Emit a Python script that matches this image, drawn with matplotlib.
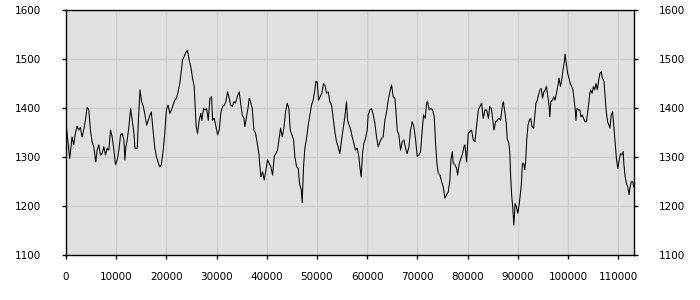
import matplotlib
matplotlib.use("Agg")
import matplotlib.pyplot as plt

x_vals = [0, 733, 1000, 1200, 1533, 1867, 2200, 2533, 2867, 3200, 3533, 3867, 4200, 4533, 4867,
          5200, 5533, 5933, 6200, 6533, 6867, 7200, 7533, 7867, 8200, 8533, 8867, 9200, 9533, 9867,
          10200, 10533, 10867, 11200, 11533, 11733, 11933, 12200, 12533, 12867, 13200, 13533, 13733,
          14200, 14400, 14733, 15067, 15400, 15733, 16067, 16400, 16733, 17000, 17333, 17667, 18000,
          18333, 18667, 19000, 19333, 19667, 20000, 20333, 20667, 21000, 21333, 21667, 22000, 22333,
          22667, 23000, 23200, 23533, 23867, 24200, 24533, 24867, 25200, 25533, 25733, 25933, 26200,
          26533, 26867, 27067, 27400,
          27680, 28010, 28340, 28670, 29000, 29200, 29540, 29870, 30200, 30530, 30860, 31200, 31530,
          31860, 32190, 32460, 32790, 33120, 33450, 33780, 34110, 34510, 34780, 35110, 35440, 35640,
          35970, 36300, 36500, 36770, 37100, 37430, 37770, 38100, 38430, 38630, 38830, 39160, 39490,
          39820, 40150, 40480, 40810, 41150, 41480, 41810, 42140, 42410, 42740, 43070, 43400, 43740,
          44070, 44400, 44670, 45000, 45330, 45590, 45930, 46260, 46520, 46860, 47050, 47320, 47580,
          47920, 48250, 48580, 48910, 49240, 49570, 49770, 50040, 50310, 50640, 50970, 51300, 51570,
          51900, 52230, 52560, 52900, 53230, 53560, 53890, 54220, 54560, 54890, 55220, 55550, 55880,
          56080, 56410, 56740, 57010, 57340, 57670, 58000, 58340, 58540, 58800, 59070, 59340, 59670,
          60000, 60200, 60530, 60860, 61200, 61530, 61860, 62190, 62530, 62860, 63190, 63520, 63860,
          64190, 64520, 64850, 65180, 65520, 65710, 65980, 66310, 66640, 66980, 67310, 67640, 67970,
          68310, 68640, 68970, 69300, 69640, 69970, 70300, 70630, 70960, 71230, 71560, 71830, 72030,
          72360, 72690, 73020, 73360, 73620, 73890, 74150, 74490, 74820, 75150, 75480, 75810, 76150,
          76480, 76680, 76940, 77140, 77480, 77810, 78010, 78340, 78670, 79000, 79270, 79470, 79800,
          80130, 80470, 80800, 81130, 81460, 81790, 82130, 82460, 82790, 83120, 83450, 83790,
          84150, 84410, 84740, 85070, 85260, 85590, 85920, 86250, 86580, 86910, 87110, 87370, 87700,
          87890, 88220, 88420, 88550, 88750, 89010, 89210, 89470, 89740, 90000, 90260, 90530, 90720,
          90920, 91180, 91380, 91580, 91780, 92040, 92300, 92570, 92830, 93160, 93360, 93620, 93880,
          94140, 94410, 94670, 94930, 95200, 95460, 95720, 95990, 96250, 96380, 96580, 96910, 97170,
          97430, 97700, 97960, 98220, 98490, 98750, 99010, 99280, 99410, 99670, 99930, 100200, 100460,
          100720, 100990, 101250, 101450, 101580, 101780, 102040, 102370, 102570, 102830, 103090,
          103360, 103680, 103880, 104140, 104340, 104540, 104800, 105070, 105330, 105590, 105860,
          106120, 106380, 106640, 106840, 107170, 107430, 107630, 107890, 108160, 108360, 108620,
          108880, 109140, 109410, 109670, 109930, 110200, 110460, 110720, 110990, 111120, 111380,
          111640, 111910, 112170, 112370, 112630, 112890, 113090]

y_vals = [1369, 1297, 1321, 1341, 1325, 1348, 1363, 1355, 1360, 1341, 1355, 1375, 1401, 1397, 1355,
          1331, 1321, 1290, 1314, 1325, 1304, 1307, 1321, 1304, 1318, 1314, 1355, 1341, 1314, 1284,
          1294, 1314, 1345, 1348, 1335, 1294, 1321, 1335, 1362, 1399, 1375, 1348, 1318,
          1318, 1369, 1437, 1413, 1403, 1386, 1365, 1375, 1386, 1392, 1355, 1321, 1301,
          1290, 1280, 1284, 1311, 1348, 1396, 1406, 1389, 1396, 1406, 1416, 1420, 1433,
          1450, 1478, 1498, 1505, 1513, 1518, 1498, 1484, 1461, 1444, 1403, 1362, 1348,
          1375, 1389, 1375, 1399,
          1396, 1399, 1375, 1420, 1423, 1375, 1379, 1362, 1345, 1355, 1392, 1403, 1406,
          1413, 1433, 1423, 1406, 1403, 1413, 1410, 1423, 1433, 1410, 1386, 1379, 1362,
          1382, 1403, 1420, 1413, 1399, 1355, 1348, 1328, 1307, 1280, 1260, 1270, 1253,
          1274, 1294, 1287, 1280, 1263, 1301, 1307, 1314, 1335, 1359, 1341, 1359, 1392,
          1410, 1399, 1355, 1345, 1335, 1301, 1280, 1277, 1246, 1233, 1207, 1280, 1318,
          1338, 1365, 1386, 1406, 1416, 1437, 1454, 1454, 1416, 1423, 1430, 1450, 1447,
          1430, 1433, 1413, 1406, 1379, 1352, 1331, 1321, 1307, 1335, 1359, 1382, 1413,
          1375, 1365, 1355, 1341, 1328, 1314, 1318, 1301, 1280, 1259, 1307, 1328, 1338,
          1355, 1386, 1396, 1399, 1386, 1369, 1341, 1321, 1331, 1338, 1341, 1375, 1392,
          1416, 1433, 1447, 1423, 1420, 1396, 1355, 1345, 1314, 1331, 1335, 1318, 1307,
          1321, 1355, 1372, 1362, 1335, 1301, 1304, 1311, 1355, 1386, 1379, 1410, 1413,
          1396, 1399, 1396, 1382, 1328, 1287, 1267, 1263, 1250, 1239, 1216, 1223, 1229,
          1253, 1294, 1311, 1287, 1284, 1277, 1263, 1287, 1297, 1307, 1321, 1325, 1290,
          1348, 1352, 1355, 1335, 1331, 1362, 1396, 1403, 1410, 1379, 1396, 1396,
          1379, 1403, 1399, 1372, 1355, 1372, 1375, 1379, 1375, 1403, 1413, 1396, 1369,
          1338, 1328, 1307, 1267, 1226, 1195, 1161, 1205, 1198, 1185, 1202, 1226, 1246,
          1287, 1287, 1274, 1291, 1335, 1365, 1375, 1379, 1362, 1359, 1382, 1410, 1416,
          1427, 1437, 1440, 1420, 1433, 1437, 1444, 1423, 1403, 1382, 1413, 1416, 1423,
          1416, 1430, 1444, 1461, 1444, 1457, 1478, 1495, 1510, 1491, 1471, 1461, 1450,
          1444, 1437, 1413, 1396, 1375, 1399, 1396, 1396, 1382, 1386, 1379,
          1372, 1372, 1389, 1410, 1430, 1437, 1430, 1444, 1437, 1450, 1437,
          1457, 1471, 1474, 1461, 1454, 1420, 1392, 1372, 1365, 1359, 1386,
          1392, 1362, 1328, 1294, 1277, 1294, 1307, 1304, 1311, 1287, 1260,
          1246, 1239, 1223, 1239, 1250, 1250, 1239]

x_ticks = list(range(0, 110001, 10000))
y_ticks = [1100, 1200, 1300, 1400, 1500, 1600]

fig = plt.figure(figsize=(7, 3), dpi=100)
ax = fig.add_axes([66 / 700, 45 / 300, 568 / 700, 245 / 300])
ax.set_facecolor("#e0e0e0")
ax.plot(x_vals, y_vals, color="black", linewidth=0.75)
ax.set_xlim(0, 113150)
ax.set_ylim(1100, 1600)
ax.set_xticks(x_ticks)
ax.set_yticks(y_ticks)
ax.grid(True, color="#cfcfcf", linewidth=1.0)
ax.set_axisbelow(True)
for s in ax.spines.values():
    s.set_color("black")
    s.set_linewidth(1.0)
ax.tick_params(axis="y", which="both", left=True, right=True, labelleft=True, labelright=True,
               direction="out", length=3, width=1, pad=15, labelsize=7.5, colors="black")
ax.tick_params(axis="x", direction="out", length=3, width=1, pad=9, labelsize=7.5, colors="black")
fig.savefig("out.png", dpi=100)
